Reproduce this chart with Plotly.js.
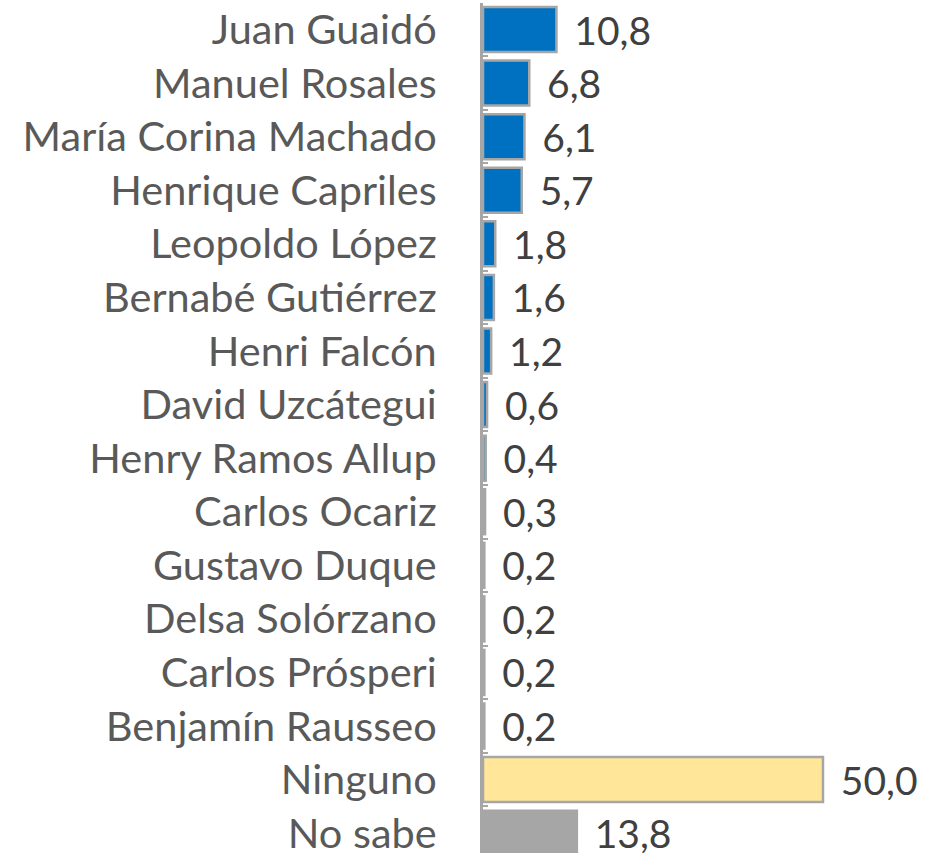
<!DOCTYPE html>
<html>
<head>
<meta charset="utf-8">
<script src="https://cdn.plot.ly/plotly-3.0.1.min.js"></script>
<style>html,body{margin:0;padding:0;background:#fff;}#chart{width:926px;height:853px;}</style>
</head>
<body>
<div id="chart"></div>
<script>
const categories = ["Juan Guaidó","Manuel Rosales","María Corina Machado","Henrique Capriles","Leopoldo López","Bernabé Gutiérrez","Henri Falcón","David Uzcátegui","Henry Ramos Allup","Carlos Ocariz","Gustavo Duque","Delsa Solórzano","Carlos Prósperi","Benjamín Rausseo","Ninguno","No sabe"];
const values = [10.8,6.8,6.1,5.7,1.8,1.6,1.2,0.6,0.4,0.3,0.2,0.2,0.2,0.2,50.0,13.8];
const groups = ["c","c","c","c","c","c","c","c","c","c","c","c","c","c","ninguno","nosabe"];

const palette = {c:"#0070C0", ninguno:"#FFE699", nosabe:"#A6A6A6"};
const colors = groups.map(g => palette[g]);

const trace = {
  type: "bar",
  orientation: "h",
  y: categories,
  x: values,
  marker: {color: colors, line: {color: "#A6A6A6", width: 2.5}},
  texttemplate: "\u00a0\u2009%{x:.1f}",
  textposition: "outside",
  textfont: {family: "Lato, 'Open Sans', sans-serif", size: 39, color: "#404040"},
  constraintext: "none",
  cliponaxis: false,
  hoverinfo: "none"
};

const layout = {
  width: 926, height: 853,
  margin: {l: 483, r: 1, t: 3, b: 0},
  paper_bgcolor: "#fff", plot_bgcolor: "#fff",
  separators: ",.",
  bargap: 0.16,
  showlegend: false,
  xaxis: {range: [0, 65], visible: false, fixedrange: true},
  yaxis: {
    type: "category",
    range: [15.37, -0.495],
    showline: true, linecolor: "#A6A6A6", linewidth: 3,
    ticks: "inside", tickson: "boundaries", ticklen: 5, tickcolor: "#A6A6A6", tickwidth: 2,
    ticklabelstandoff: 35,
    tickfont: {family: "Lato, 'Open Sans', sans-serif", size: 41.5, color: "#595959"},
    showgrid: false, zeroline: false, fixedrange: true
  }
};

Plotly.newPlot("chart", [trace], layout, {staticPlot: true, displayModeBar: false});
</script>
</body>
</html>
